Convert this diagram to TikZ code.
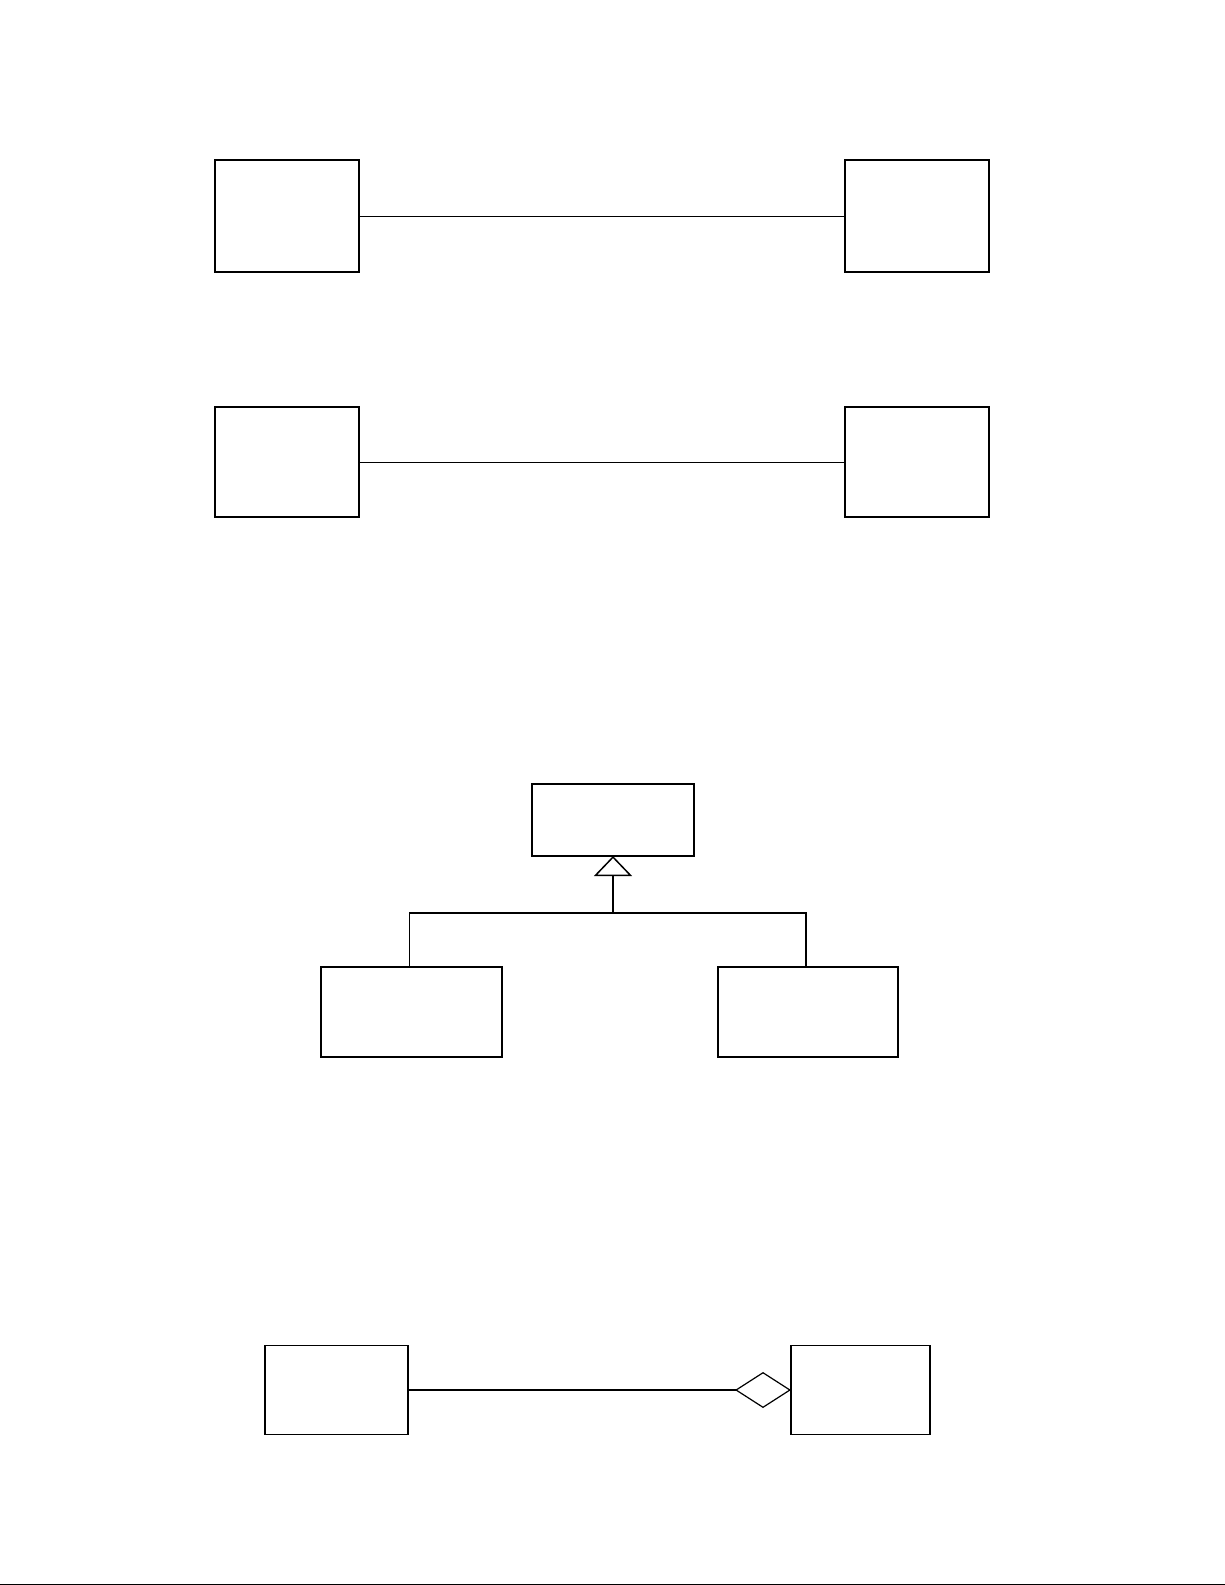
\documentclass[tikz,border=0pt]{standalone}
\usetikzlibrary{arrows.meta,positioning}

\begin{document}
\begin{tikzpicture}[x=0.5pt, y=-0.5pt,
    cls/.style={draw=black, line width=0.75pt, minimum width=72pt,
                minimum height=56pt, inner sep=0pt, outer sep=0pt},
    assoc/.style={draw=black, line width=0.4pt}]
  \useasboundingbox (0,0) rectangle (1225,1585);
  % plain associations
  \node[cls] (first) at (287,216) {};
  \node[cls, right=243pt of first] (second) {};
  \draw[assoc] (first) -- (second);
  \node[cls, minimum height=55pt] (third) at (287,462) {};
  \node[cls, minimum height=55pt, right=243pt of third] (fourth) {};
  \draw[assoc] (third) -- (fourth);
  % generalisation
  \node[cls, minimum width=81pt, minimum height=36pt] (base) at (613,820) {};
  \node[cls, minimum width=90.5pt, minimum height=45pt] (subA) at (411.5,1012) {};
  \node[cls, minimum width=90pt, minimum height=45pt, right=108pt of subA] (subB) {};
  \coordinate (joint) at (613,913);
  \draw[line width=0.75pt, -{Triangle[open, width=19pt, length=10pt]}] (joint) -- (base);
  \draw[line width=0.75pt] ([xshift=-1pt]subA.north) |- (joint) -| ([xshift=-1pt]subB.north);
  % aggregation
  \node[cls, minimum width=71.5pt, minimum height=44.5pt] (part) at (336.5,1390) {};
  \node[cls, minimum width=69.5pt, minimum height=44.5pt, right=191.5pt of part] (whole) {};
  \draw[line width=1.2pt, -{Diamond[open, width=18pt, length=28pt, line width=0.6pt]}] (part) -- (whole);
  % page edge
  \draw[line width=0.5pt] (0,1584) -- (1225,1584);
\end{tikzpicture}
\end{document}
